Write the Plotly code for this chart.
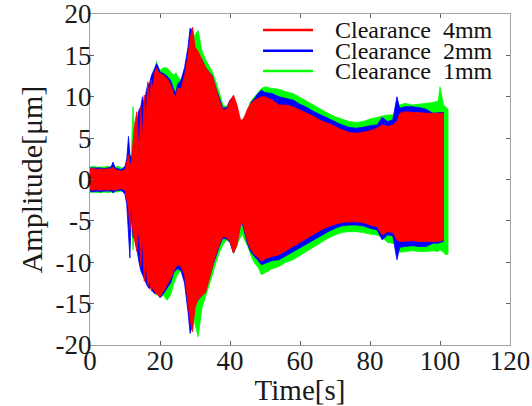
import plotly.graph_objects as go

# time grid [s]
time_s = [0, 1, 2, 3, 4, 5, 6, 6.6, 7.2, 8, 9, 10, 10.5, 11, 11.4, 11.8, 12.3, 12.8, 13.4, 14,
          14.5, 15, 15.5, 16, 16.5, 17, 17.5, 18, 18.5, 19, 19.5, 20, 21, 22, 23, 24, 24.5, 25,
          26, 27, 28, 28.6, 29.3, 30, 30.9, 32, 33, 34, 35, 36, 37, 38, 39, 40, 41, 42, 43,
          43.5, 44, 45, 46, 47, 48, 49, 50, 52, 54, 56, 58, 60, 62, 64, 66, 68, 70, 72, 74,
          76, 78, 80, 82, 83.5, 85, 86.5, 87.7, 88.5, 90, 92, 94, 96, 98, 99.5, 100, 101]
time_green = time_s + [101.6, 102.3]

# envelope of Clearance 4mm (red)
red_upper = [1.3, 1.3, 1.2, 1.3, 1.2, 1.3, 1.3, 1.5, 1.2, 1.1, 1.0, 1.2, 2.0, 3.0, 2.0, 1.8, 4.5, 6.8, 8.2, 3.0,
             8.8, 5.0, 10.2, 7.0, 11.8, 9.0, 12.0, 11.0, 13.0, 13.5, 13.0, 12.8, 12.6, 12.2, 11.5, 10.2, 10.0, 11.0,
             11.0, 12.5, 15.0, 17.0, 18.4, 16.0, 15.5, 14.5, 13.5, 13.0, 12.4, 11.0, 9.5, 8.4, 8.5, 9.5, 10.2, 9.0, 7.2,
             7.2, 7.5, 8.5, 9.2, 9.6, 9.8, 10.0, 10.0, 9.6, 9.0, 9.0, 8.8, 8.4, 8.0, 7.6, 7.1, 6.8, 6.4, 6.0, 5.7,
             5.6, 5.7, 5.9, 6.2, 6.6, 6.4, 6.6, 7.0, 8.0, 8.2, 8.1, 8.1, 8.0, 8.0, 8.0, 8.0, 8.0]
red_lower = [-1.2, -1.3, -1.2, -1.3, -1.2, -1.3, -1.2, -1.3, -1.2, -1.2, -1.1, -1.3, -2.5, -3.5, -6.0, -3.0, -6.5, -7.5, -8.7, -5.5,
             -10.5, -7.0, -12.3, -10.0, -13.0, -12.0, -13.5, -13.0, -13.6, -13.8, -14.0, -14.2, -13.5, -12.8, -12.0, -11.0, -10.6, -10.3,
             -10.5, -11.5, -15.0, -17.0, -18.4, -15.5, -14.5, -14.0, -13.7, -12.0, -10.5, -9.0, -7.8, -6.9, -7.0, -7.5, -8.9, -8.0, -5.5,
             -5.1, -6.0, -7.5, -8.5, -9.1, -9.4, -9.9, -9.6, -9.3, -9.1, -8.6, -8.1, -7.7, -7.2, -6.6, -6.1, -5.7, -5.4, -5.2, -5.1,
             -5.1, -5.2, -5.5, -5.7, -6.7, -6.3, -6.4, -7.3, -7.5, -7.5, -7.4, -7.5, -7.5, -7.5, -7.5, -7.4, -7.4]

# envelope of Clearance 2mm (blue)
blue_upper = [1.4, 1.4, 1.4, 1.4, 1.3, 1.4, 1.5, 2.1, 1.4, 1.3, 1.2, 1.6, 2.5, 5.2, 3.0, 2.5, 3.5, 6.0, 7.0, 8.4,
              8.8, 10.0, 9.0, 10.5, 11.5, 11.6, 12.5, 13.0, 13.5, 14.0, 13.6, 13.0, 12.8, 12.5, 12.0, 10.8, 10.5, 11.5,
              12.0, 13.5, 16.0, 18.3, 18.0, 15.5, 15.0, 14.5, 13.5, 13.0, 12.5, 11.0, 9.8, 8.6, 8.7, 9.6, 10.0, 8.5, 6.0,
              5.2, 6.5, 8.0, 9.3, 9.8, 10.4, 10.8, 10.5, 10.4, 10.0, 9.8, 9.6, 9.1, 8.7, 8.2, 7.8, 7.4, 7.0, 6.6, 6.3,
              6.2, 6.3, 6.5, 6.6, 7.5, 7.0, 7.2, 10.0, 8.6, 8.8, 8.8, 8.7, 8.5, 8.0, 8.1, 8.1, 8.1]
blue_lower = [-1.4, -1.5, -1.4, -1.5, -1.4, -1.4, -1.4, -1.6, -1.4, -1.3, -1.3, -1.8, -3.0, -6.0, -9.5, -4.0, -7.0, -7.0, -8.7, -10.0,
              -11.0, -11.5, -12.0, -12.5, -13.0, -13.2, -13.0, -13.6, -13.8, -13.6, -14.0, -14.3, -13.8, -13.2, -12.5, -11.2, -11.0, -10.8,
              -11.0, -12.5, -16.0, -18.6, -17.5, -15.0, -14.5, -14.0, -13.5, -12.0, -10.5, -9.2, -8.0, -7.1, -7.2, -7.6, -8.9, -7.5, -5.5,
              -5.3, -6.2, -7.8, -8.8, -9.3, -9.8, -10.3, -10.1, -9.8, -9.7, -9.2, -8.7, -8.3, -7.8, -7.3, -6.8, -6.3, -5.9, -5.6, -5.5,
              -5.5, -5.6, -5.9, -6.1, -7.3, -6.7, -6.8, -9.7, -8.2, -8.1, -8.0, -8.1, -8.1, -7.7, -7.7, -7.6, -7.5]

# envelope of Clearance 1mm (green)
green_upper = [1.5, 1.6, 1.5, 1.5, 1.5, 1.6, 1.5, 1.7, 1.5, 1.6, 1.4, 1.4, 1.8, 2.5, 2.2, 3.0, 8.8, 4.0, 5.0, 3.5,
               7.5, 5.0, 8.0, 7.0, 10.0, 9.5, 11.0, 12.0, 12.5, 14.3, 13.5, 13.2, 13.5, 13.5, 13.0, 12.6, 12.9, 12.5,
               12.0, 13.0, 14.5, 15.5, 16.5, 17.5, 18.0, 15.5, 14.5, 13.8, 13.0, 11.8, 10.3, 9.0, 8.8, 9.0, 9.2, 8.2, 7.0,
               6.5, 7.0, 8.5, 9.5, 10.0, 10.6, 11.0, 11.2, 11.0, 10.9, 10.6, 10.4, 9.9, 9.5, 9.0, 8.5, 8.0, 7.6, 7.3, 7.0,
               6.9, 7.0, 7.3, 7.5, 7.6, 7.8, 7.8, 8.2, 9.0, 9.2, 9.0, 9.1, 9.2, 9.3, 9.5, 11.2, 9.0, 8.8, 8.5]
green_lower = [-1.6, -1.5, -1.6, -1.6, -1.5, -1.6, -1.5, -1.6, -1.5, -1.5, -1.4, -1.6, -2.0, -3.0, -4.0, -3.5, -8.5, -5.0, -6.0, -5.0,
               -9.0, -8.0, -10.0, -9.5, -12.0, -12.5, -13.0, -13.5, -13.8, -13.9, -14.0, -14.2, -14.0, -14.6, -14.0, -12.5, -12.0, -11.5,
               -11.0, -12.0, -13.5, -14.0, -15.0, -17.5, -19.0, -15.5, -14.2, -12.8, -11.5, -10.0, -8.8, -7.9, -7.3, -7.5, -8.9, -7.8, -7.0,
               -6.5, -7.2, -8.0, -9.2, -10.1, -10.6, -11.5, -11.2, -10.8, -10.5, -10.0, -9.7, -9.2, -8.7, -8.1, -7.6, -7.1, -6.7, -6.4, -6.3,
               -6.3, -6.4, -6.6, -6.7, -7.0, -7.6, -7.7, -7.8, -8.8, -8.7, -8.6, -8.7, -8.7, -8.6, -8.7, -8.5, -8.8, -9.1, -9.0]

series_names = ["Clearance\u00a0\u00a04mm", "Clearance\u00a0\u00a02mm", "Clearance\u00a0\u00a01mm"]
series_colors = ["#ff0000", "#0000ff", "#00ff00"]

x_ticks = [0, 20, 40, 60, 80, 100, 120]
y_ticks = [-20, -15, -10, -5, 0, 5, 10, 15, 20]

FONT = "Liberation Serif"

fig = go.Figure()

# draw order: green (bottom), blue, red (top)
layers = [
    (time_green, green_upper, green_lower, series_colors[2], series_names[2]),
    (time_s, blue_upper, blue_lower, series_colors[1], series_names[1]),
    (time_s, red_upper, red_lower, series_colors[0], series_names[0]),
]
for t, up, lo, col, name in layers:
    fig.add_trace(go.Scatter(
        x=list(t) + list(t)[::-1],
        y=list(up) + list(lo)[::-1],
        mode="lines", fill="toself", fillcolor=col,
        line=dict(color=col, width=0.8),
        name=name, showlegend=False, hoverinfo="skip",
    ))

axis_common = dict(
    showgrid=False, zeroline=False, showline=True, linecolor="#a0a0a0", linewidth=1.2,
    mirror="ticks", ticks="inside", ticklen=4, tickcolor="#606060", tickwidth=1,
    tickfont=dict(family=FONT, size=27, color="#1a1a1a"), automargin=False,
    ticklabeloverflow="allow",
)

fig.update_layout(
    width=532, height=406,
    margin=dict(l=90, r=22, t=14, b=61),
    paper_bgcolor="white", plot_bgcolor="white",
    showlegend=False,
    font=dict(family=FONT, color="#1a1a1a"),
    xaxis=dict(range=[0, 120], tickvals=x_ticks, ticktext=[str(v) for v in x_ticks],
               ticklabelstandoff=-9,
               title=dict(text="Time[s]", font=dict(family=FONT, size=29), standoff=0),
               **axis_common),
    yaxis=dict(range=[-20, 20], tickvals=y_ticks, ticktext=[str(v) for v in y_ticks],
               ticklabelstandoff=-8,
               title=dict(text="Amplitude[μm]", font=dict(family=FONT, size=30), standoff=4),
               **axis_common),
)

# legend drawn as line samples + labels in the upper right
legend_rows_y = [0.952, 0.889, 0.828]
for name, col, yy in zip(series_names, series_colors, legend_rows_y):
    fig.add_shape(type="line", xref="paper", yref="paper",
                  x0=0.412, x1=0.531, y0=yy, y1=yy,
                  line=dict(color=col, width=2.5))
    fig.add_annotation(xref="paper", yref="paper", x=0.578, y=yy,
                       text=name, showarrow=False, xanchor="left", yanchor="middle",
                       font=dict(family=FONT, size=24, color="#111111"))

fig.write_html("out.html")
